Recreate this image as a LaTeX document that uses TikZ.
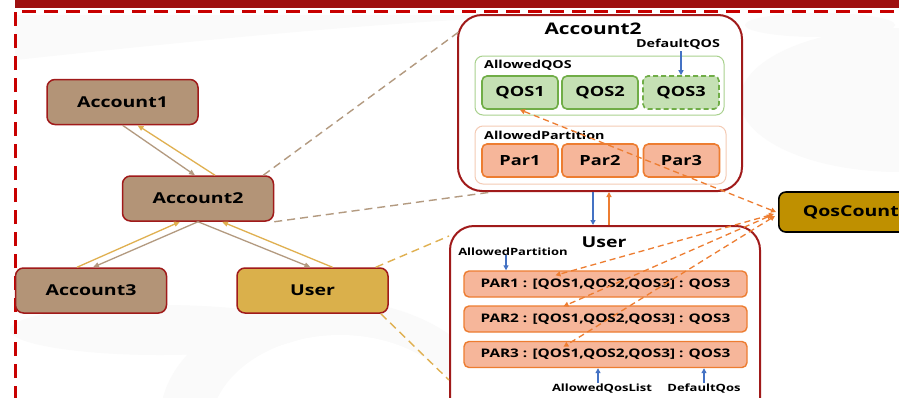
\documentclass[tikz,border=0pt]{standalone}
\usepackage{fontspec}
\setmainfont{Open Sans}[FakeStretch=1.3]
\usetikzlibrary{arrows.meta}

\definecolor{banner}{HTML}{9E1010}
\definecolor{frame}{HTML}{C80000}
\definecolor{dkred}{HTML}{A01A1A}
\definecolor{acctfill}{HTML}{B39477}
\definecolor{userfill}{HTML}{DAB04B}
\definecolor{qcfill}{HTML}{BF9000}
\definecolor{qosfill}{HTML}{C5E0B4}
\definecolor{qosline}{HTML}{70AD47}
\definecolor{qosgroup}{HTML}{A9D18E}
\definecolor{parfill}{HTML}{F6B69A}
\definecolor{parline}{HTML}{ED7D31}
\definecolor{pargroup}{HTML}{F4CBB5}
\definecolor{linkblue}{HTML}{4472C4}
\definecolor{brownln}{HTML}{B39A80}
\definecolor{goldln}{HTML}{E0B050}
\definecolor{swoosh}{HTML}{FAFAFA}

\tikzset{
  acct/.style={draw=dkred, line width=1.5pt, fill=acctfill, rounded corners=8pt,
    minimum width=151pt, minimum height=45pt, inner sep=0pt,
    font=\bfseries\fontsize{15}{18}\selectfont},
  bigbox/.style={draw=dkred, line width=2pt, fill=white, rounded corners=24pt, inner sep=0pt},
  group/.style={line width=1pt, fill=white, rounded corners=8pt, inner sep=0pt},
  qosbox/.style={draw=qosline, line width=1.6pt, fill=qosfill, rounded corners=5pt,
    minimum width=76pt, minimum height=33pt, inner sep=0pt,
    font=\bfseries\fontsize{14}{16}\selectfont},
  parbox/.style={draw=parline, line width=1.6pt, fill=parfill, rounded corners=5pt,
    minimum width=76pt, minimum height=33pt, inner sep=0pt,
    font=\bfseries\fontsize{14}{16}\selectfont},
  rowbox/.style={draw=parline, line width=1.4pt, fill=parfill, rounded corners=5pt,
    minimum width=283pt, minimum height=26pt, inner sep=0pt,
    font=\bfseries\fontsize{11.8}{14}\selectfont},
  smalllbl/.style={inner sep=0pt, font=\bfseries\fontsize{11}{13}\selectfont},
  tinylbl/.style={inner sep=0pt, font=\bfseries\fontsize{10}{12}\selectfont},
  boxtitle/.style={inner sep=0pt, font=\bfseries\fontsize{16}{19}\selectfont},
  bluearr/.style={draw=linkblue, line width=1.4pt, -{Triangle[length=5pt,width=5pt]}},
  orangearr/.style={draw=parline, line width=1.4pt, -{Triangle[length=5pt,width=5pt]}},
  qclink/.style={draw=parline, line width=1.3pt, dash pattern=on 6pt off 4pt,
    {Triangle[length=5pt,width=5pt]}-{Triangle[length=5pt,width=5pt]}},
  downarr/.style={draw=brownln, line width=1.3pt, -{Triangle[length=6pt,width=5pt]}},
  uparr/.style={draw=goldln, line width=1.3pt, -{Triangle[length=6pt,width=5pt]}},
  acctzoom/.style={draw=brownln, line width=1.4pt, dash pattern=on 8pt off 5pt},
  userzoom/.style={draw=goldln, line width=1.4pt, dash pattern=on 8pt off 5pt},
}

\begin{document}
\begin{tikzpicture}[x=1pt, y=-1pt]
  \clip (0,0) rectangle (899,397);
  \fill[white] (0,0) rectangle (899,397);

  % faint background swirls
  \fill[swoosh] (15,60) .. controls (200,40) and (400,20) .. (560,15) -- (15,15) -- cycle;
  \fill[swoosh] (820,25) ellipse (75pt and 12pt);
  \fill[swoosh] (900,100) ellipse (160pt and 72pt);
  \fill[swoosh] (330,420) ellipse (170pt and 120pt);
  \fill[white] (340,430) ellipse (130pt and 95pt);
  \fill[swoosh] (160,330) ellipse (150pt and 25pt);

  % banner and dashed frame
  \fill[banner] (15,0) rectangle (899,8);
  \draw[frame, line width=3pt, dash pattern=on 14pt off 8pt] (15,400) -- (15,11) -- (905,11);

  % account hierarchy
  \node[acct] (a1) at (122.5,102) {Account1};
  \node[acct] (a2) at (198,198.5) {Account2};
  \node[acct] (a3) at (91,290.5) {Account3};
  \node[acct, fill=userfill] (usr) at (312.5,290.5) {User};

  % expanded Account2
  \node[bigbox, minimum width=284pt, minimum height=176pt] (a2big) at (600,103) {};
  \node[boxtitle] (a2title) at (593,29) {Account2};
  \node[group, draw=qosgroup, minimum width=249pt, minimum height=59pt] (qgrp) at (599.5,85.5) {};
  \node[group, draw=pargroup, minimum width=251pt, minimum height=58pt] (pgrp) at (600.5,155) {};
  \node[smalllbl, anchor=west] (aqlbl) at (484,65) {AllowedQOS};
  \node[smalllbl, anchor=west] (aplbl) at (484,135) {AllowedPartition};
  \node[smalllbl] (dqlbl) at (678,44) {DefaultQOS};
  \node[qosbox] (qos1) at (520,92.5) {QOS1};
  \node[qosbox] (qos2) at (600,92.5) {QOS2};
  \node[qosbox, dashed, dash pattern=on 5pt off 3pt] (qos3) at (681,92.5) {QOS3};
  \node[parbox] (par1) at (520,160.5) {Par1};
  \node[parbox] (par2) at (600,160.5) {Par2};
  \node[parbox] (par3) at (681.5,160.5) {Par3};
  \draw[bluearr] (qos3.north |- dqlbl.south) ++(0,2) -- (qos3.north);

  % expanded User
  \node[bigbox, minimum width=310pt, minimum height=200pt] (ubig) at (605,326) {};
  \node[boxtitle, font=\bfseries\fontsize{15}{18}\selectfont] (utitle) at (604,242) {User};
  \node[tinylbl] (uplbl) at (513,252) {AllowedPartition};
  \node[rowbox] (row1) at (605.5,284) {PAR1 : [QOS1,QOS2,QOS3] : QOS3};
  \node[rowbox] (row2) at (605.5,319) {PAR2 : [QOS1,QOS2,QOS3] : QOS3};
  \node[rowbox] (row3) at (605.5,354.5) {PAR3 : [QOS1,QOS2,QOS3] : QOS3};
  \node[tinylbl] (aqllbl) at (602,389) {AllowedQosList};
  \node[tinylbl] (dqllbl) at (704,389) {DefaultQos};
  \draw[bluearr] ([xshift=-7pt]uplbl.south) ++(0,-1) -- ([xshift=-7pt]uplbl.south |- row1.north);
  \draw[bluearr] ([xshift=-4pt]aqllbl.north) ++(0,-1) -- ([xshift=-4pt]aqllbl.north |- row3.south);
  \draw[bluearr] (dqllbl.north) ++(0,-1) -- (dqllbl.north |- row3.south);

  % Account2 <-> User links
  \draw[bluearr] ([xshift=-7pt]a2big.south) -- ([xshift=-12pt]ubig.north);
  \draw[orangearr] ([xshift=4pt]ubig.north) -- ([xshift=9pt]a2big.south);

  % QosCount
  \node[draw=black, line width=1.6pt, fill=qcfill, rounded corners=7pt,
    minimum width=144pt, minimum height=40pt, inner sep=0pt, anchor=west,
    font=\bfseries\fontsize{15}{18}\selectfont] (qc) at (778,212) {QosCount};
  \draw[qclink] ([xshift=-2pt]qc.west) -- (qos1.south);
  \draw[qclink] ([xshift=-4pt,yshift=-2pt]qc.west) -- ([xshift=-50pt,yshift=-5pt]row1.north);
  \draw[qclink] ([xshift=-6pt,yshift=-3pt]qc.west) -- ([xshift=-42pt,yshift=-1pt]row2.north);
  \draw[qclink] ([xshift=-3pt,yshift=-4pt]qc.west) -- ([xshift=-42pt,yshift=-6pt]row3.north);

  % parent/child links
  \draw[downarr] (a1.south) -- ([xshift=-3pt]a2.north);
  \draw[uparr] ([xshift=17pt]a2.north) -- ([xshift=15pt]a1.south);
  \draw[downarr] (a2.south) -- ([xshift=2pt]a3.north);
  \draw[uparr] ([xshift=-14pt]a3.north) -- ([xshift=-18pt]a2.south);
  \draw[downarr] (a2.south) -- ([xshift=-2pt]usr.north);
  \draw[uparr] ([xshift=20pt]usr.north) -- ([xshift=24pt]a2.south);

  % zoom-out guide lines
  \draw[acctzoom] ([xshift=-11pt]a2.north east) -- ([xshift=3pt,yshift=-17pt]a2big.north west);
  \draw[acctzoom] (a2.south east) -- ([xshift=35pt]a2big.south west);
  \draw[userzoom] ([xshift=-13pt]usr.north east) -- ([yshift=-11pt]ubig.north west);
  \draw[userzoom] ([xshift=-8pt]usr.south east) -- ([yshift=-54pt]ubig.west);
\end{tikzpicture}
\end{document}
